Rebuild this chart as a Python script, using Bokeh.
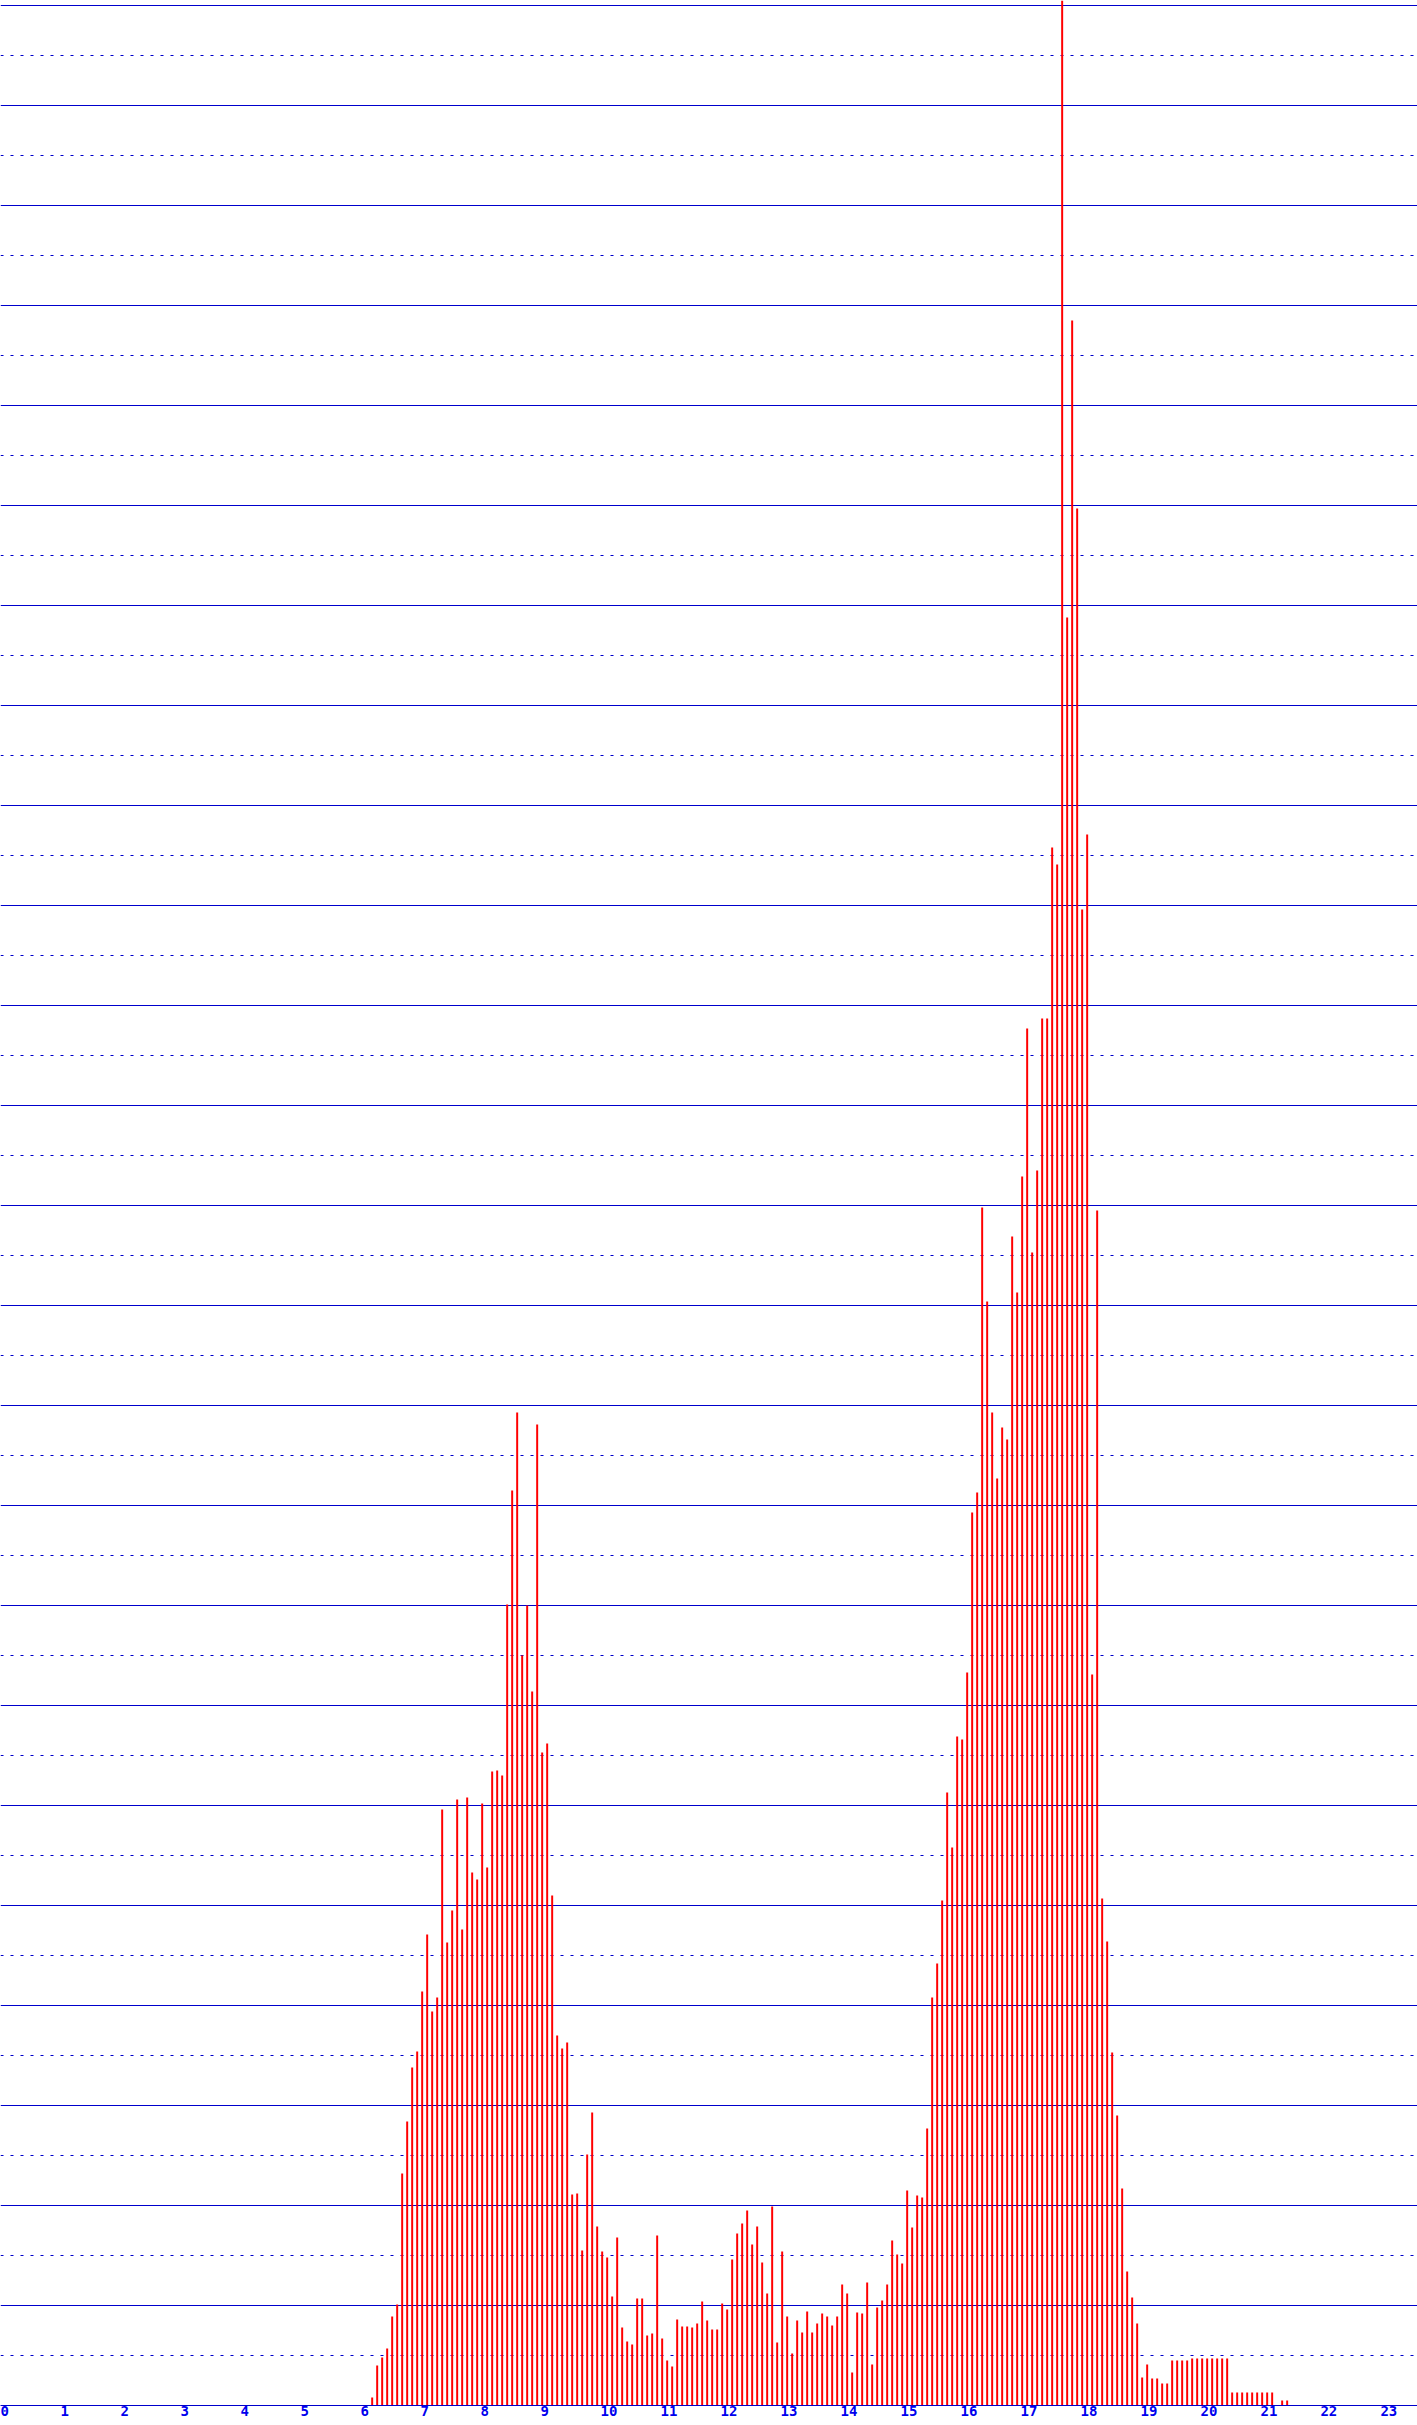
import numpy as np
from bokeh.plotting import figure
from bokeh.models import Range1d, FixedTicker
from bokeh.embed import file_html
from bokeh.resources import INLINE

# 5-minute bins, first bin starts at 06:10 (minute of day 370)
first_bin_minute = 370
bin_minutes = 5

counts = [
    8, 40, 48, 57, 89, 101, 232, 284, 338, 354, 414, 471,
    394, 408, 596, 463, 495, 606, 476, 608, 533, 526, 602, 538,
    634, 635, 630, 801, 915, 993, 750, 800, 714, 981, 653, 662,
    510, 370, 357, 363, 211, 212, 155, 251, 293, 179, 154, 148,
    109, 168, 78, 64, 61, 107, 107, 70, 72, 170, 67, 45,
    39, 86, 79, 79, 78, 82, 104, 85, 76, 76, 102, 96,
    146, 172, 182, 195, 161, 179, 143, 112, 199, 63, 154, 89,
    52, 85, 73, 94, 73, 82, 92, 89, 80, 89, 121, 112,
    33, 93, 92, 123, 41, 98, 105, 121, 165, 151, 142, 215,
    178, 210, 208, 277, 408, 442, 505, 613, 558, 669, 666, 733,
    893, 913, 1198, 1104, 993, 927, 978, 966, 1169, 1113, 1229, 1377,
    1153, 1235, 1387, 1387, 1558, 1541, 2405, 1788, 2085, 1897, 1496, 1571,
    731, 1195, 507, 464, 353, 290, 217, 134, 108, 82, 28, 41,
    27, 27, 22, 22, 45, 45, 45, 45, 47, 47, 47, 47,
    47, 47, 47, 47, 13, 13, 13, 13, 13, 13, 13, 13,
    13, 0, 5, 5,
]

hours = list(range(24))
hour_labels = ["0", "1", "2", "3", "4", "5", "6", "7", "8", "9", "10", "11",
               "12", "13", "14", "15", "16", "17", "18", "19", "20", "21", "22", "23"]

major_grid = list(range(0, 2401, 100))
minor_grid = list(range(50, 2400, 100))

BLUE = "#0000CC"
LABEL_BLUE = "#0000EE"

minutes = first_bin_minute + bin_minutes * np.arange(len(counts))
bar_x = minutes / 60.0 + 0.028

p = figure(width=1417, height=2425,
           x_range=Range1d(0, 23.617), y_range=Range1d(0, 2405),
           output_backend="svg", toolbar_location=None,
           min_border_left=0, min_border_right=0, min_border_top=0,
           min_border_bottom=20)
p.background_fill_color = "white"
p.border_fill_color = "white"
p.outline_line_color = None

p.vbar(x=bar_x, top=counts, bottom=0, width=0.033,
       fill_color="#FF0000", line_color=None)

p.yaxis.visible = False
p.xgrid.visible = False
p.ygrid.ticker = FixedTicker(ticks=major_grid, minor_ticks=minor_grid)
p.ygrid.grid_line_color = BLUE
p.ygrid.grid_line_width = 1
p.ygrid.minor_grid_line_color = BLUE
p.ygrid.minor_grid_line_width = 1
p.ygrid.minor_grid_line_dash = "3 7"

# labels are left-aligned at each hour: shift tick by half label width
tick_pos = [h + (0.07 if len(lbl) == 1 else 0.14) for h, lbl in zip(hours, hour_labels)]
p.xaxis.ticker = FixedTicker(ticks=tick_pos, minor_ticks=[])
p.xaxis.major_label_overrides = {t: lbl for t, lbl in zip(tick_pos, hour_labels)}
p.xaxis.axis_line_color = BLUE
p.xaxis.axis_line_width = 1
p.xaxis.major_tick_line_color = None
p.xaxis.minor_tick_line_color = None
p.xaxis.major_tick_out = 0
p.xaxis.major_tick_in = 0
p.xaxis.major_label_standoff = 0
p.xaxis.major_label_text_font = "DejaVu Sans Mono"
p.xaxis.major_label_text_font_size = "14px"
p.xaxis.major_label_text_font_style = "bold"
p.xaxis.major_label_text_color = LABEL_BLUE

open("out.html", "w").write(file_html(p, INLINE))
